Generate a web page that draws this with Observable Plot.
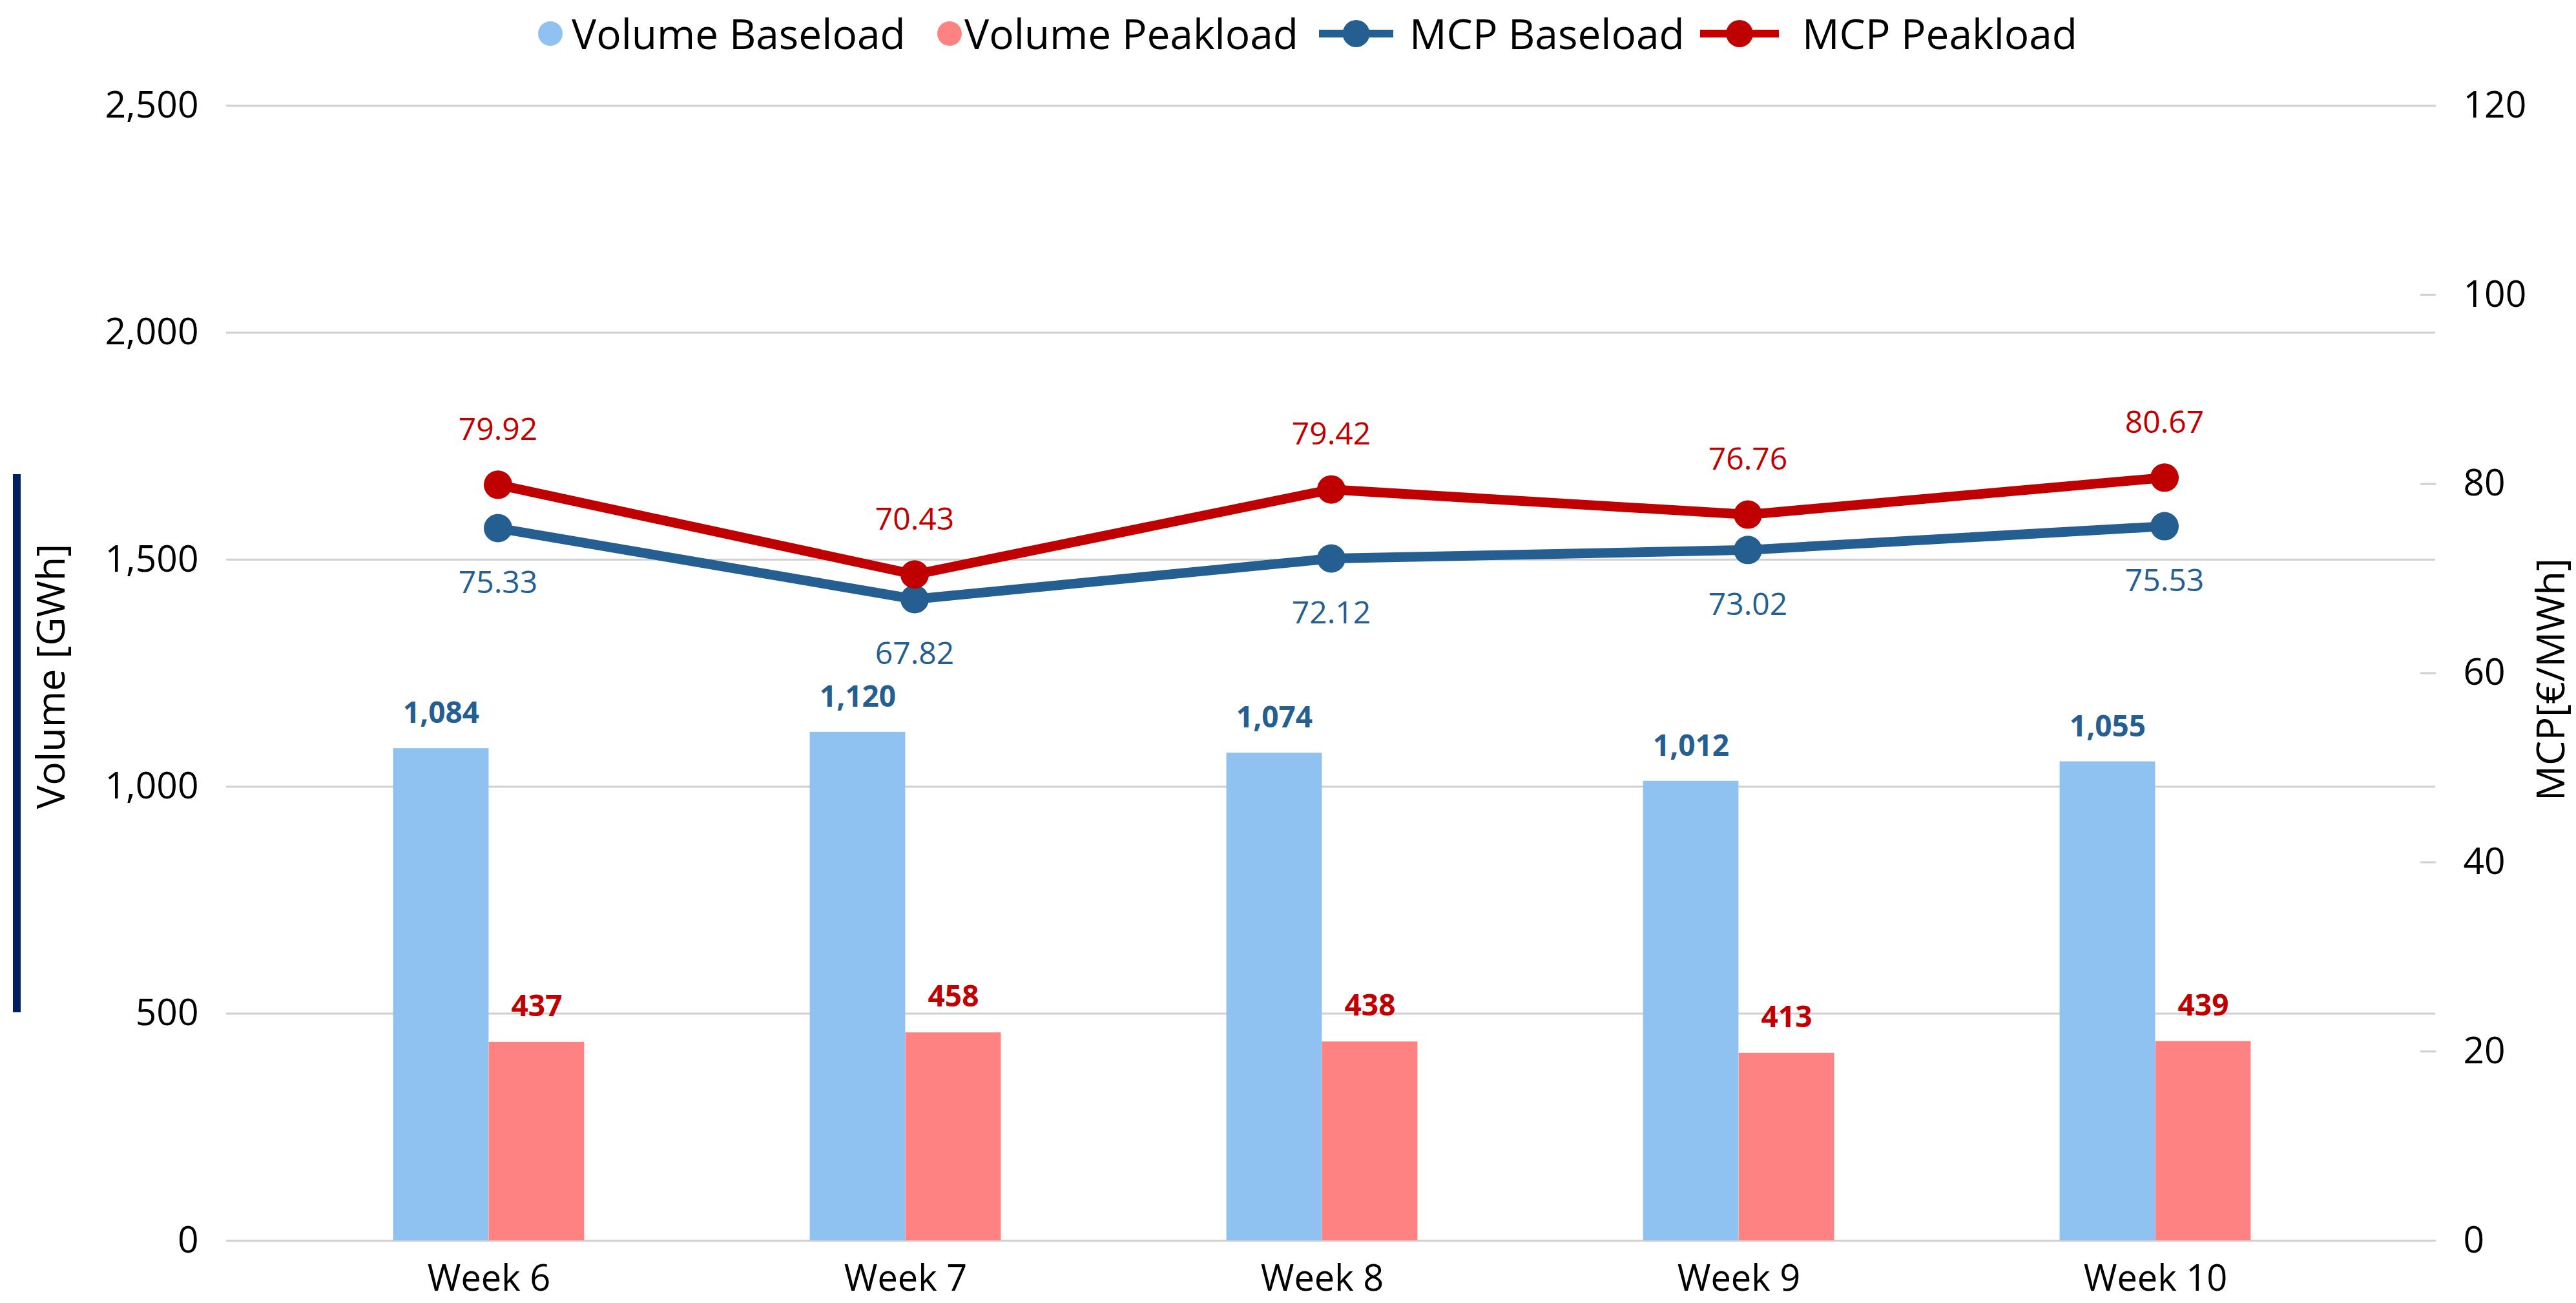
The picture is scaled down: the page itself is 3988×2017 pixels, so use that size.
<!DOCTYPE html>
<html>
<head>
<meta charset="utf-8">
<script src="https://cdn.jsdelivr.net/npm/d3@7"></script>
<script src="https://cdn.jsdelivr.net/npm/@observablehq/plot@0.6"></script>
<style>
  html, body { margin: 0; padding: 0; background: #fff; }
  #wrap { position: relative; width: 3988px; height: 2017px; font-family: "Open Sans", sans-serif; }
  #wrap svg { position: absolute; left: 0; top: 0; }
  .abs { position: absolute; white-space: nowrap; color: #000; }
  .leg-text { font-size: 64px; line-height: 1; top: 52px; transform: translateY(-50%); }
</style>
</head>
<body>
<div id="wrap"></div>
<script>
// ---- data ----
const weeks = ["Week 6", "Week 7", "Week 8", "Week 9", "Week 10"];
const volumeBaseload = [1084, 1120, 1074, 1012, 1055];
const volumePeakload = [437, 458, 438, 413, 439];
const mcpBaseload = [75.33, 67.82, 72.12, 73.02, 75.53];
const mcpPeakload = [79.92, 70.43, 79.42, 76.76, 80.67];
const volumeTicks = [0, 500, 1000, 1500, 2000, 2500];
const mcpTicks = [0, 20, 40, 60, 80, 100, 120];
const seriesNames = ["Volume Baseload", "Volume Peakload", "MCP Baseload", "MCP Peakload"];
const leftTitle = "Volume [GWh]";
const rightTitle = "MCP[€/MWh]";

const colors = {
  volBase: "#8fc1f1",
  volPeak: "#ff8282",
  mcpBase: "#255e91",
  mcpPeak: "#c00000",
  grid: "#d0d0d0"
};

const data = weeks.map((week, i) => ({
  week,
  volBase: volumeBaseload[i],
  volPeak: volumePeakload[i],
  mcpBase: mcpBaseload[i],
  mcpPeak: mcpPeakload[i]
}));

// secondary axis: MCP max (120) maps onto volume max (2500)
const k = volumeTicks[volumeTicks.length - 1] / mcpTicks[mcpTicks.length - 1];

const bandHalf = 322.6;   // half of a category band (px)
const barW = 148;         // bar width (px)
const lineShift = 14;     // line series offset relative to category center

const fmtInt = d3.format(",");
const fmt2 = d3.format(".2f");

const chart = Plot.plot({
  width: 3988,
  height: 2017,
  marginTop: 163,
  marginBottom: 97,
  marginLeft: 350,
  marginRight: 218,
  style: { fontFamily: "Open Sans", fontSize: "57px", color: "#000", background: "transparent", overflow: "visible" },
  x: { type: "band", domain: weeks, padding: 0, insetLeft: 83, insetRight: 110, axis: null },
  y: { domain: [0, 2500], axis: null },
  marks: [
    Plot.gridY(volumeTicks, { stroke: colors.grid, strokeOpacity: 1, strokeWidth: 3 }),
    Plot.axisY(volumeTicks, {
      anchor: "left", tickSize: 0, tickPadding: 43, fontSize: 57, fill: "#000",
      tickFormat: fmtInt, label: null
    }),
    Plot.axisY(mcpTicks.map(v => v * k), {
      anchor: "right", tickSize: -24, tickPadding: 67, fontSize: 57, fill: "#000",
      stroke: colors.grid, strokeWidth: 3,
      tickFormat: d => String(Math.round(d / k)), label: null
    }),
    Plot.axisX({ anchor: "bottom", tickSize: 0, tickPadding: 38, fontSize: 56, fill: "#000", label: null }),
    Plot.text([leftTitle], { frameAnchor: "left", rotate: -90, dx: -270, dy: 5, fontSize: 61, fill: "#000", textAnchor: "middle", lineAnchor: "middle" }),
    Plot.text([rightTitle], { frameAnchor: "right", rotate: -90, dx: 180, dy: 10, fontSize: 61, fill: "#000", textAnchor: "middle", lineAnchor: "middle" }),
    Plot.barY(data, { x: "week", y: "volBase", fill: colors.volBase, insetLeft: bandHalf - barW, insetRight: bandHalf }),
    Plot.barY(data, { x: "week", y: "volPeak", fill: colors.volPeak, insetLeft: bandHalf, insetRight: bandHalf - barW }),
    Plot.text(data, {
      x: "week", y: "volBase", text: d => fmtInt(d.volBase), dx: -barW / 2, dy: -54,
      fill: colors.mcpBase, fontWeight: "bold", fontSize: 46, textAnchor: "middle", lineAnchor: "middle"
    }),
    Plot.text(data, {
      x: "week", y: "volPeak", text: d => fmtInt(d.volPeak), dx: barW / 2, dy: -55,
      fill: colors.mcpPeak, fontWeight: "bold", fontSize: 46, textAnchor: "middle", lineAnchor: "middle"
    }),
    Plot.line(data, { x: "week", y: d => d.mcpBase * k, stroke: colors.mcpBase, strokeWidth: 15, dx: lineShift }),
    Plot.dot(data, { x: "week", y: d => d.mcpBase * k, r: 22, fill: colors.mcpBase, dx: lineShift }),
    Plot.line(data, { x: "week", y: d => d.mcpPeak * k, stroke: colors.mcpPeak, strokeWidth: 15, dx: lineShift }),
    Plot.dot(data, { x: "week", y: d => d.mcpPeak * k, r: 22, fill: colors.mcpPeak, dx: lineShift }),
    Plot.text(data, {
      x: "week", y: d => d.mcpBase * k, text: d => fmt2(d.mcpBase), dx: lineShift, dy: 85,
      fill: colors.mcpBase, fontSize: 48, textAnchor: "middle", lineAnchor: "middle"
    }),
    Plot.text(data, {
      x: "week", y: d => d.mcpPeak * k, text: d => fmt2(d.mcpPeak), dx: lineShift, dy: -85,
      fill: colors.mcpPeak, fontSize: 48, textAnchor: "middle", lineAnchor: "middle"
    })
  ]
});

const wrap = document.getElementById("wrap");
wrap.appendChild(chart);

// ---- legend ----
function addSwatchCircle(cx, color) {
  const s = document.createElementNS("http://www.w3.org/2000/svg", "svg");
  s.setAttribute("width", 44); s.setAttribute("height", 44);
  s.style.position = "absolute"; s.style.left = (cx - 22) + "px"; s.style.top = (52 - 22) + "px";
  s.innerHTML = `<circle cx="22" cy="22" r="19" fill="${color}"/>`;
  wrap.appendChild(s);
}
function addSwatchLine(x1, x2, color) {
  const w = x2 - x1;
  const s = document.createElementNS("http://www.w3.org/2000/svg", "svg");
  s.setAttribute("width", w); s.setAttribute("height", 50);
  s.style.position = "absolute"; s.style.left = x1 + "px"; s.style.top = (52 - 25) + "px";
  s.innerHTML = `<line x1="0" x2="${w}" y1="25" y2="25" stroke="${color}" stroke-width="12"/><circle cx="${w / 2}" cy="25" r="21" fill="${color}"/>`;
  wrap.appendChild(s);
}
function addText(x, txt) {
  const d = document.createElement("div");
  d.className = "abs leg-text";
  d.style.left = x + "px";
  d.textContent = txt;
  wrap.appendChild(d);
}
addSwatchCircle(852, colors.volBase); addText(885, seriesNames[0]);
addSwatchCircle(1470, colors.volPeak); addText(1493, seriesNames[1]);
addSwatchLine(2042, 2157, colors.mcpBase); addText(2182, seriesNames[2]);
addSwatchLine(2632, 2754, colors.mcpPeak); addText(2790, seriesNames[3]);

// ---- decorative bar beside the left title ----
const bar = document.createElement("div");
bar.className = "abs";
Object.assign(bar.style, { left: "20px", top: "734px", width: "12px", height: "833px", background: "#002060" });
wrap.appendChild(bar);
</script>
</body>
</html>
